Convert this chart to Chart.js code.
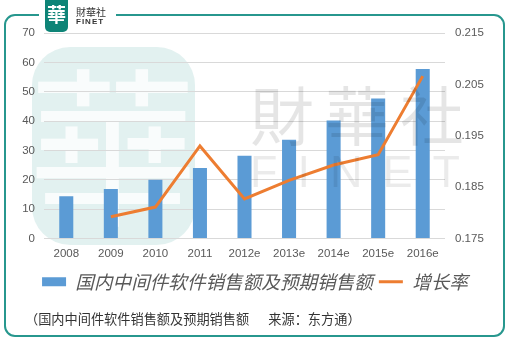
<!DOCTYPE html>
<html>
<head>
<meta charset="utf-8">
<script src="https://cdn.jsdelivr.net/npm/chart.js@4.4.0/dist/chart.umd.min.js"></script>
<style>
  html, body { margin: 0; padding: 0; background: #fff; }
  #wrap { width: 510px; height: 343px; }
</style>
</head>
<body>
<div id="wrap"><canvas id="salesChart" width="510" height="343"></canvas></div>
<script>
// sales (left axis) and growth rate (right axis)
const years = ["2008", "2009", "2010", "2011", "2012e", "2013e", "2014e", "2015e", "2016e"];
const salesValues = [14.4, 16.8, 20.0, 24.0, 28.2, 33.6, 40.2, 47.7, 57.7];
const growthRates = [null, 0.1792, 0.1811, 0.193, 0.1827, 0.1863, 0.1893, 0.1913, 0.2066];
const salesTicks = [0, 70, 10];          // min, max, step
const growthTicks = [0.175, 0.215, 0.01]; // min, max, step

const salesLabel = "国内中间件软件销售额及预期销售额";
const growthLabel = "增长率";
const sourceNote = "（国内中间件软件销售额及预期销售额　  来源：东方通）";

const tickColor = "#595959";
const tickFont = { family: "Liberation Sans", size: 11.5 };

// logo watermark behind the plot
const backdrop = {
  id: "backdrop",
  beforeDraw(chart) {
    const ctx = chart.ctx;
    ctx.save();
    ctx.fillStyle = "rgba(160, 210, 205, 0.3)";
    ctx.beginPath();
    ctx.roundRect(32, 47, 163, 198, 38);
    ctx.fill();
    ctx.fillStyle = "rgba(255, 255, 255, 0.8)";
    ctx.font = "170px 'Noto Sans CJK TC'";
    ctx.textAlign = "center";
    ctx.textBaseline = "middle";
    ctx.fillText("華", 113, 148);
    ctx.restore();
  }
};

// frame, logo, text watermark and source line
const decorations = {
  id: "decorations",
  afterDraw(chart) {
    const ctx = chart.ctx;
    ctx.save();

    // grey text watermark
    ctx.textAlign = "left";
    ctx.textBaseline = "middle";
    ctx.fillStyle = "rgba(0, 0, 0, 0.1)";
    ctx.font = "64px 'Noto Sans CJK TC'";
    ctx.letterSpacing = "11px";
    ctx.fillText("財華社", 250, 116);
    ctx.fillStyle = "rgba(0, 0, 0, 0.08)";
    ctx.font = "45px 'Liberation Sans'";
    ctx.letterSpacing = "20px";
    ctx.textBaseline = "alphabetic";
    ctx.fillText("FINET", 250, 187);
    ctx.letterSpacing = "0px";

    // rounded frame with a gap for the logo
    ctx.strokeStyle = "#27978E";
    ctx.lineWidth = 2;
    ctx.beginPath();
    ctx.moveTo(39, 15);
    ctx.lineTo(15, 15);
    ctx.arcTo(5, 15, 5, 25, 10);
    ctx.lineTo(5, 326);
    ctx.arcTo(5, 336, 15, 336, 10);
    ctx.lineTo(494, 336);
    ctx.arcTo(504, 336, 504, 326, 10);
    ctx.lineTo(504, 25);
    ctx.arcTo(504, 15, 494, 15, 10);
    ctx.lineTo(116, 15);
    ctx.stroke();

    // logo
    ctx.fillStyle = "#0E8477";
    ctx.beginPath();
    ctx.roundRect(45, -4, 23, 36, 5);
    ctx.fill();
    ctx.fillStyle = "#fff";
    ctx.font = "bold 19px 'Noto Sans CJK TC'";
    ctx.textAlign = "center";
    ctx.textBaseline = "middle";
    ctx.fillText("華", 56.5, 15);
    ctx.textAlign = "left";
    ctx.fillStyle = "#333";
    ctx.font = "10px 'Noto Sans CJK TC'";
    ctx.fillText("財華社", 76, 12);
    ctx.font = "bold 8px 'Liberation Sans'";
    ctx.letterSpacing = "1px";
    ctx.fillText("FINET", 76, 21.5);
    ctx.letterSpacing = "0px";

    // source line
    ctx.fillStyle = "#333";
    ctx.font = "13.2px 'Noto Sans CJK SC'";
    ctx.fillText(sourceNote, 25, 319);

    ctx.restore();
  }
};

const ctx = document.getElementById("salesChart").getContext("2d");
const salesChart = new Chart(ctx, {
  type: "bar",
  data: {
    labels: years,
    datasets: [
      {
        label: salesLabel,
        data: salesValues,
        backgroundColor: "#5B9BD5",
        borderWidth: 0,
        categoryPercentage: 1,
        barPercentage: 0.315,
        pointStyle: "rect",
        yAxisID: "y",
        order: 2,
      },
      {
        type: "line",
        label: growthLabel,
        data: growthRates,
        borderColor: "#ED7D31",
        backgroundColor: "#ED7D31",
        borderWidth: 3,
        pointRadius: 0,
        pointStyle: "line",
        tension: 0,
        yAxisID: "y1",
        order: 1,
      },
    ],
  },
  options: {
    responsive: false,
    animation: false,
    layout: { padding: { top: 33, bottom: 42, left: 0, right: 0 } },
    scales: {
      x: {
        grid: { display: false, drawTicks: false },
        border: { display: false },
        ticks: { color: tickColor, font: tickFont, padding: 9, maxRotation: 0 },
        afterFit: (scale) => { scale.height = 28; },
      },
      y: {
        position: "left",
        min: salesTicks[0],
        max: salesTicks[1],
        ticks: { stepSize: salesTicks[2], color: tickColor, font: tickFont, padding: 9 },
        grid: { color: "#D9D9D9", drawTicks: false },
        border: { display: false },
        afterFit: (scale) => { scale.width = 44; },
      },
      y1: {
        position: "right",
        min: growthTicks[0],
        max: growthTicks[1],
        ticks: {
          stepSize: growthTicks[2],
          color: tickColor,
          font: tickFont,
          padding: 10,
          callback: (v) => v.toFixed(3),
        },
        grid: { display: false, drawTicks: false },
        border: { display: false },
        afterFit: (scale) => { scale.width = 65; },
      },
    },
    plugins: {
      tooltip: { enabled: false },
      legend: {
        position: "bottom",
        reverse: true,
        labels: {
          usePointStyle: true,
          pointStyleWidth: 24,
          boxHeight: 9,
          padding: 6,
          color: tickColor,
          font: { family: "Noto Sans CJK SC", size: 18.6, style: "italic" },
        },
      },
    },
  },
  plugins: [backdrop, decorations],
});
</script>
</body>
</html>
